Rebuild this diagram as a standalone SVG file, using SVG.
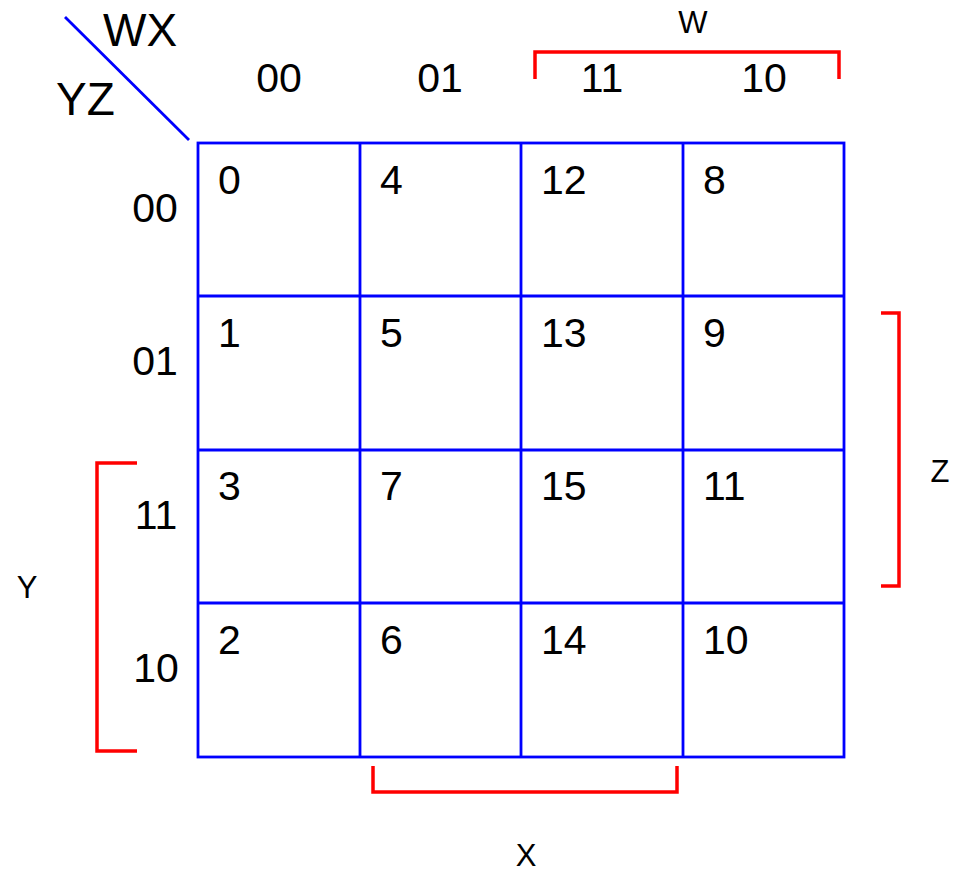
<svg xmlns="http://www.w3.org/2000/svg" width="964" height="874" viewBox="0 0 964 874">
<style>
.t{font-family:"Liberation Sans",Arial,sans-serif;fill:#000}
.n{font-size:41px}
.h{font-size:41px;text-anchor:middle}
.s{font-size:31px;text-anchor:middle}
.g{fill:none;stroke:#0000ff;stroke-width:2.8}
.b{fill:none;stroke:#ff0000;stroke-width:3.5}
</style>
<rect width="964" height="874" fill="#fff"/>
<g id="grid">
<rect class="g" x="198" y="143" width="646" height="614"/>
<line class="g" x1="360" y1="143" x2="360" y2="757"/>
<line class="g" x1="521" y1="143" x2="521" y2="757"/>
<line class="g" x1="683" y1="143" x2="683" y2="757"/>
<line class="g" x1="198" y1="296" x2="844" y2="296"/>
<line class="g" x1="198" y1="450" x2="844" y2="450"/>
<line class="g" x1="198" y1="603" x2="844" y2="603"/>
<line class="g" x1="65" y1="17" x2="189" y2="140"/>
</g>
<g id="corner">
<text class="t" x="103" y="46" font-size="46">WX</text>
<text class="t" x="56" y="115" font-size="46">YZ</text>
</g>
<g id="colheaders">
<text class="t h" x="279" y="92">00</text>
<text class="t h" x="440" y="92">01</text>
<text class="t h" x="602" y="92">11</text>
<text class="t h" x="764" y="92">10</text>
</g>
<g id="rowheaders">
<text class="t h" x="155" y="222">00</text>
<text class="t h" x="155" y="375">01</text>
<text class="t h" x="156" y="529">11</text>
<text class="t h" x="156" y="682">10</text>
</g>
<g id="cells">
<text class="t n" x="218" y="194">0</text>
<text class="t n" x="380" y="194">4</text>
<text class="t n" x="541" y="194">12</text>
<text class="t n" x="703" y="194">8</text>
<text class="t n" x="218" y="347">1</text>
<text class="t n" x="380" y="347">5</text>
<text class="t n" x="541" y="347">13</text>
<text class="t n" x="703" y="347">9</text>
<text class="t n" x="218" y="500">3</text>
<text class="t n" x="380" y="500">7</text>
<text class="t n" x="541" y="500">15</text>
<text class="t n" x="703" y="500">11</text>
<text class="t n" x="218" y="654">2</text>
<text class="t n" x="380" y="654">6</text>
<text class="t n" x="541" y="654">14</text>
<text class="t n" x="703" y="654">10</text>
</g>
<g id="connectors">
<polyline class="b" points="535,79 535,52 839,52 839,79"/>
<polyline class="b" points="881,313 899,313 899,586 881,586"/>
<polyline class="b" points="137,463 97,463 97,751 137,751"/>
<polyline class="b" points="373,766 373,792 677,792 677,766"/>
</g>
<g id="labels">
<text class="t s" x="693" y="33">W</text>
<text class="t s" x="940" y="482">Z</text>
<text class="t s" x="27" y="598">Y</text>
<text class="t s" x="526" y="866">X</text>
</g>
</svg>
